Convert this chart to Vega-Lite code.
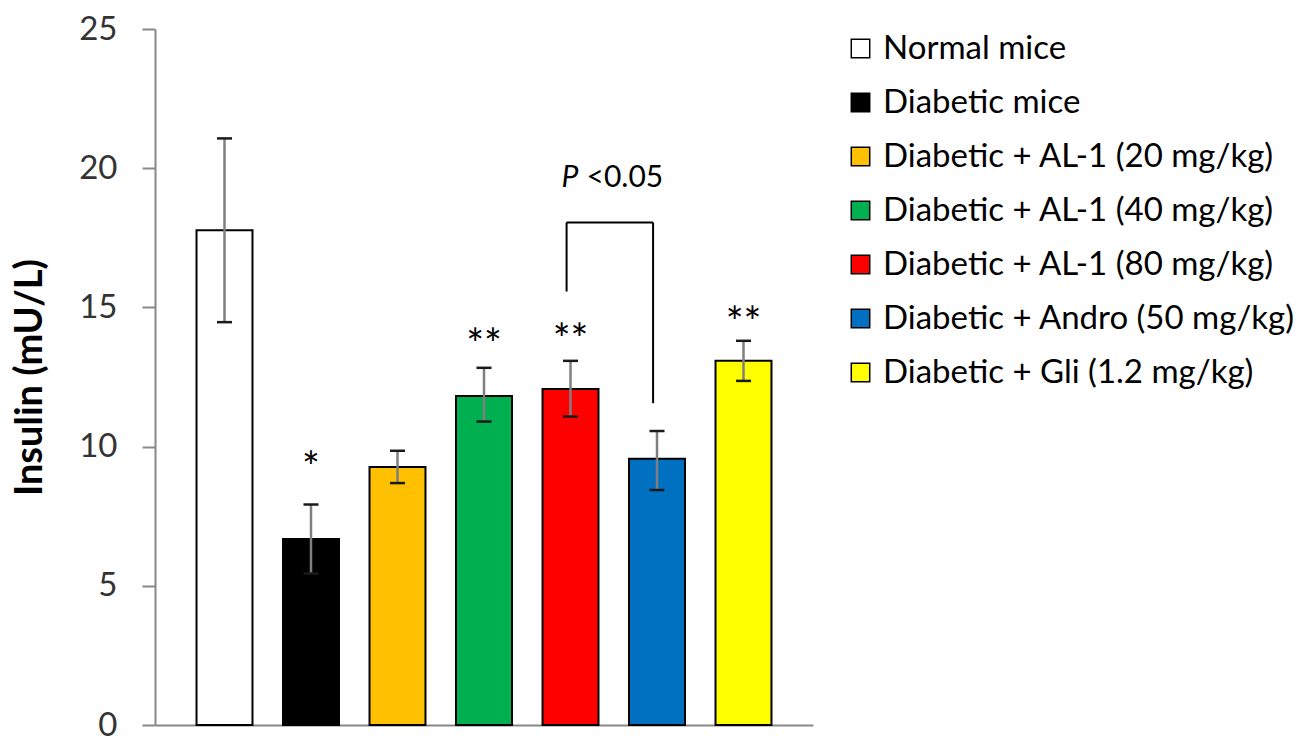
{
  "$schema": "https://vega.github.io/schema/vega-lite/v6.json",
  "autosize": "none",
  "width": 658,
  "height": 696,
  "padding": {"left": 155, "top": 29, "right": 485, "bottom": 15},
  "background": "white",
  "config": {
    "font": "Lato",
    "view": {"stroke": null},
    "axis": {"grid": false}
  },
  "datasets": {
    "bars": [
      {"group": "Normal mice", "mean": 17.77, "lo": 14.47, "hi": 21.07},
      {"group": "Diabetic mice", "mean": 6.68, "lo": 5.44, "hi": 7.92},
      {"group": "Diabetic + AL-1 (20 mg/kg)", "mean": 9.27, "lo": 8.69, "hi": 9.85},
      {"group": "Diabetic + AL-1 (40 mg/kg)", "mean": 11.82, "lo": 10.9, "hi": 12.83},
      {"group": "Diabetic + AL-1 (80 mg/kg)", "mean": 12.07, "lo": 11.08, "hi": 13.08},
      {"group": "Diabetic + Andro (50 mg/kg)", "mean": 9.56, "lo": 8.44, "hi": 10.56},
      {"group": "Diabetic + Gli (1.2 mg/kg)", "mean": 13.08, "lo": 12.36, "hi": 13.8}
    ],
    "stars": [
      {"group": "Diabetic mice", "label": "*", "y": 9.52},
      {"group": "Diabetic + AL-1 (40 mg/kg)", "label": "**", "y": 13.94},
      {"group": "Diabetic + AL-1 (80 mg/kg)", "label": "**", "y": 14.13},
      {"group": "Diabetic + Gli (1.2 mg/kg)", "label": "**", "y": 14.73}
    ],
    "bracketV": [
      {"group": "Diabetic + AL-1 (80 mg/kg)", "top": 18.05, "bottom": 15.57},
      {"group": "Diabetic + Andro (50 mg/kg)", "top": 18.05, "bottom": 11.56}
    ],
    "bracketH": [
      {"from": "Diabetic + AL-1 (80 mg/kg)", "to": "Diabetic + Andro (50 mg/kg)", "y": 18.05}
    ],
    "ptext": [
      {"group": "Diabetic + AL-1 (80 mg/kg)", "y": 19.34}
    ]
  },
  "encoding": {
    "x": {
      "field": "group",
      "type": "nominal",
      "sort": null,
      "scale": {
        "domain": ["Normal mice", "Diabetic mice", "Diabetic + AL-1 (20 mg/kg)", "Diabetic + AL-1 (40 mg/kg)", "Diabetic + AL-1 (80 mg/kg)", "Diabetic + Andro (50 mg/kg)", "Diabetic + Gli (1.2 mg/kg)"],
        "paddingInner": 0.353,
        "paddingOuter": 0.48
      },
      "axis": {
        "title": null,
        "labels": false,
        "ticks": false,
        "domainColor": "#888888",
        "domainWidth": 2
      }
    }
  },
  "layer": [
    {
      "data": {"name": "bars"},
      "mark": {"type": "bar", "stroke": "black", "strokeWidth": 2},
      "encoding": {
        "y": {
          "field": "mean",
          "type": "quantitative",
          "scale": {"domain": [0, 25], "nice": false},
          "axis": {
            "values": [0, 5, 10, 15, 20, 25],
            "title": "Insulin (mU/L)",
            "titleFontSize": 38,
            "titleFontWeight": "bold",
            "titleColor": "#000000",
            "titlePadding": 29,
            "labelFontSize": 33,
            "labelColor": "#333333",
            "labelPadding": 25,
            "tickSize": 13,
            "tickColor": "#888888",
            "tickWidth": 2,
            "domainColor": "#888888",
            "domainWidth": 2
          }
        },
        "color": {
          "field": "group",
          "type": "nominal",
          "sort": null,
          "scale": {
            "domain": ["Normal mice", "Diabetic mice", "Diabetic + AL-1 (20 mg/kg)", "Diabetic + AL-1 (40 mg/kg)", "Diabetic + AL-1 (80 mg/kg)", "Diabetic + Andro (50 mg/kg)", "Diabetic + Gli (1.2 mg/kg)"],
            "range": ["#FFFFFF", "#000000", "#FFC000", "#00B050", "#FF0000", "#0070C0", "#FFFF00"]
          },
          "legend": {
            "title": null,
            "orient": "none",
            "legendX": 689,
            "legendY": 3,
            "padding": 0,
            "symbolType": "square",
            "symbolSize": 340,
            "symbolStrokeColor": "black",
            "symbolStrokeWidth": 1.5,
            "labelFontSize": 33,
            "labelColor": "#000000",
            "labelOffset": 6,
            "labelLimit": 600,
            "rowPadding": 20
          }
        }
      }
    },
    {
      "data": {"name": "bars"},
      "mark": {"type": "rule", "color": "#7f7f7f", "strokeWidth": 2.5},
      "encoding": {
        "y": {"field": "lo", "type": "quantitative"},
        "y2": {"field": "hi"}
      }
    },
    {
      "data": {"name": "bars"},
      "mark": {"type": "tick", "orient": "horizontal", "color": "#1a1a1a", "size": 15, "thickness": 2.5, "opacity": 1},
      "encoding": {
        "y": {"field": "hi", "type": "quantitative"}
      }
    },
    {
      "data": {"name": "bars"},
      "mark": {"type": "tick", "orient": "horizontal", "color": "#1a1a1a", "size": 15, "thickness": 2.5, "opacity": 1},
      "encoding": {
        "y": {"field": "lo", "type": "quantitative"}
      }
    },
    {
      "data": {"name": "stars"},
      "mark": {"type": "text", "fontSize": 42, "baseline": "alphabetic", "align": "center", "dy": 22, "color": "#000000"},
      "encoding": {
        "y": {"field": "y", "type": "quantitative"},
        "text": {"field": "label"}
      }
    },
    {
      "data": {"name": "bracketV"},
      "mark": {"type": "rule", "color": "#000000", "strokeWidth": 2},
      "encoding": {
        "x": {"field": "group", "type": "nominal", "bandPosition": 0.43},
        "y": {"field": "top", "type": "quantitative"},
        "y2": {"field": "bottom"}
      }
    },
    {
      "data": {"name": "bracketH"},
      "mark": {"type": "rule", "color": "#000000", "strokeWidth": 2},
      "encoding": {
        "x": {"field": "from", "type": "nominal", "bandPosition": 0.43},
        "x2": {"field": "to", "bandPosition": 0.43},
        "y": {"field": "y", "type": "quantitative"}
      }
    },
    {
      "data": {"name": "ptext"},
      "mark": {"type": "text", "text": "P", "fontStyle": "italic", "fontSize": 30, "align": "left", "baseline": "alphabetic", "dx": -9, "color": "#000000"},
      "encoding": {
        "y": {"field": "y", "type": "quantitative"}
      }
    },
    {
      "data": {"name": "ptext"},
      "mark": {"type": "text", "text": "<0.05", "fontSize": 30, "align": "left", "baseline": "alphabetic", "dx": 16, "color": "#000000"},
      "encoding": {
        "y": {"field": "y", "type": "quantitative"}
      }
    }
  ]
}
